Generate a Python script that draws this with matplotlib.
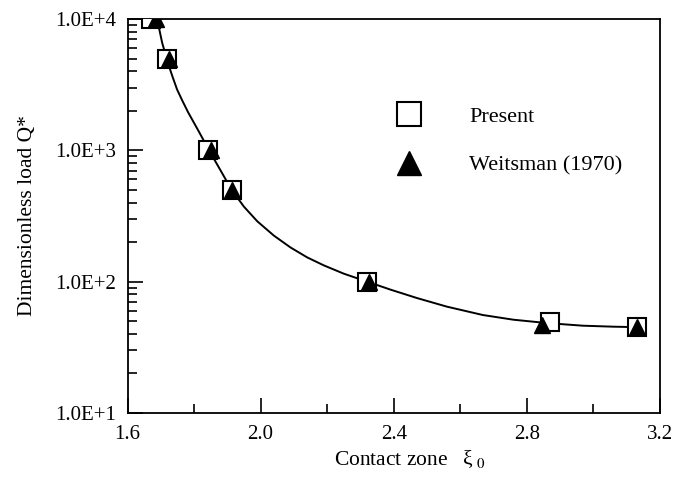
import matplotlib
matplotlib.use("Agg")
import matplotlib.pyplot as plt
import matplotlib.ticker as mticker
import numpy as np

plt.rcParams['font.family'] = ['Liberation Serif', 'DejaVu Serif']
plt.rcParams['mathtext.fontset'] = 'stix'

# data
present_x = [1.672, 1.72, 1.842, 1.913, 2.32, 2.87, 3.13]
present_y = [1.0e4, 5.0e3, 1.0e3, 5.0e2, 1.0e2, 49, 45]

weitsman_x = [1.686, 1.725, 1.85, 1.915, 2.325, 2.845, 3.13]
weitsman_y = [1.0e4, 5.0e3, 1.0e3, 5.0e2, 1.0e2, 47, 45]

# fitted curve
curve_x = [1.689, 1.697, 1.704, 1.713, 1.722, 1.735, 1.749, 1.765, 1.782,
           1.815, 1.845, 1.88, 1.913, 1.95, 1.99, 2.04, 2.09, 2.14, 2.19,
           2.25, 2.32, 2.39, 2.47, 2.56, 2.668, 2.76, 2.86, 2.968, 3.06,
           3.139]
curve_y = [10000, 8000, 6600, 5500, 4570, 3650, 2900, 2380, 1950,
           1380, 1000, 700, 500, 372, 288, 224, 182, 153, 133,
           115, 100, 87, 75, 64.5, 55.7, 51.3, 48.4, 46.2, 45.4,
           45]

xticks = [1.6, 2.0, 2.4, 2.8, 3.2]
yticks = [1e1, 1e2, 1e3, 1e4]

fig = plt.figure(figsize=(6.73, 4.82), dpi=100)
ax = fig.add_axes([0.1895, 0.1432, 0.791, 0.8174])

ax.plot(curve_x, curve_y, color='black', lw=1.4, zorder=2)
ax.plot(present_x, present_y, ls='none', marker='s', ms=12.5, mfc='white',
        mec='black', mew=1.5, label='Present', zorder=3)
ax.plot(weitsman_x, weitsman_y, ls='none', marker='^', ms=12, mfc='black',
        mec='black', label='Weitsman (1970)', zorder=4)

ax.set_yscale('log')
ax.set_xlim(1.6, 3.2)
ax.set_ylim(1e1, 1e4)
ax.set_xticks(xticks)
ax.set_xticklabels(['%.1f' % v for v in xticks])
ax.xaxis.set_minor_locator(mticker.MultipleLocator(0.2))
ax.set_yticks(yticks)
ax.yaxis.set_major_formatter(mticker.FuncFormatter(
    lambda v, p: '1.0E+%d' % round(np.log10(v))))
ax.yaxis.set_minor_locator(mticker.LogLocator(base=10, subs=np.arange(2, 10),
                                              numticks=20))
ax.yaxis.set_minor_formatter(mticker.NullFormatter())

ax.tick_params(which='both', direction='in', top=False, right=False,
               labelsize=15, width=1.2)
ax.tick_params(which='major', length=11)
ax.tick_params(which='minor', length=6.5)
ax.tick_params(axis='x', which='major', pad=9)
ax.tick_params(axis='y', which='major', pad=8)
for s in ax.spines.values():
    s.set_linewidth(1.3)

ax.set_xlabel('Contact zone   ξ$_{\\ 0}$', fontsize=15.5)
ax.xaxis.set_label_coords(0.53, -0.09)
ax.set_ylabel('Dimensionless load Q*', fontsize=15.5, labelpad=13)

ax.legend(loc='upper left', bbox_to_anchor=(0.4977, 0.779), frameon=False,
          fontsize=16, markerscale=1.4, handlelength=1.5, handletextpad=1.95,
          labelspacing=1.27, borderpad=0, borderaxespad=0)

fig.savefig('out.png', dpi=100)
